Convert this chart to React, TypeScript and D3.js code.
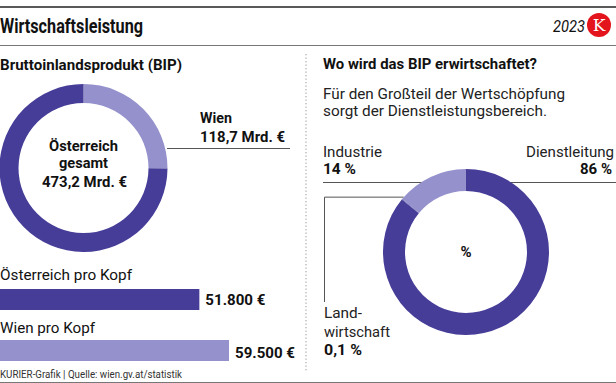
import React from "react";
import * as d3 from "d3";

const DARK = "#463d98";
const LIGHT = "#9491cc";
const FONT = "Roboto, 'Open Sans', sans-serif";

// Donut 1: Austria total GDP, Vienna share
const gdpTotal = 473.2;
const gdpLabels = ["Wien", "Rest"];
const gdpValues = [118.7, gdpTotal - 118.7];

// Donut 2: sectors
const sectorNames = ["Dienstleistung", "Landwirtschaft", "Industrie"];
const sectorValues = [86, 0.1, 14];
const sectorColors = [DARK, DARK, LIGHT];

// Bars: per capita
const perCapitaLabels = ["Österreich pro Kopf", "Wien pro Kopf"];
const perCapitaValues = [51800, 59500];
const perCapitaText = ["51.800 €", "59.500 €"];

type TProps = {
  x: number;
  y: number;
  s: number;
  w?: number;
  b?: boolean;
  a?: "start" | "end" | "middle";
  fill?: string;
  it?: boolean;
  children: React.ReactNode;
};
const T = ({ x, y, s, w, b, a, fill, it, children }: TProps) => (
  <text
    x={x}
    y={y}
    fontSize={s}
    fontWeight={b ? 700 : 400}
    fontStyle={it ? "italic" : "normal"}
    textAnchor={a || "start"}
    fill={fill || "#111"}
    fontFamily={FONT}
    textLength={w}
    lengthAdjust={w ? "spacingAndGlyphs" : undefined}
  >
    {children}
  </text>
);

export default function App() {
  const pie = d3.pie<number>().sort(null).value((d) => d);

  const c1 = { x: 83.5, y: 168 };
  const arc1 = d3.arc<d3.PieArcDatum<number>>().innerRadius(65).outerRadius(84);
  const arcs1 = pie(gdpValues);

  const c2 = { x: 466, y: 252 };
  const arc2 = d3.arc<d3.PieArcDatum<number>>().innerRadius(61).outerRadius(83);
  const arcs2 = pie(sectorValues);

  const xBar = d3.scaleLinear().domain([0, 59500]).range([0, 229]);
  const barY = [289, 340];
  const barLabelY = [280, 333];
  const barTextY = [305, 358];
  const barColors = [DARK, LIGHT];

  // Industrie arc start point (outer edge) for Landwirtschaft leader
  const indStart = arcs2[2].startAngle;
  const lx = c2.x + 83 * Math.sin(indStart + 0.03);
  const ly = c2.y - 83 * Math.cos(indStart + 0.03);

  return (
    <svg
      width={616}
      height={383}
      style={{ position: "absolute", left: 0, top: 0, background: "#fff" }}
    >
      <rect width={616} height={383} fill="#fff" />
      {/* header */}
      <line x1={0} x2={616} y1={7} y2={7} stroke="#222" strokeWidth={1.6} />
      <T x={0} y={33} s={20} b w={143}>Wirtschaftsleistung</T>
      <T x={553} y={32} s={16} it w={32}>2023</T>
      <circle cx={599} cy={25} r={12} fill="#e3141b" />
      <text x={599} y={31} fontSize={17} fontFamily="'DejaVu Serif', 'Liberation Serif', serif" fill="#fff" textAnchor="middle">K</text>
      <line x1={0} x2={616} y1={45.5} y2={45.5} stroke="#777" strokeWidth={1} />

      {/* separator */}
      <line x1={306} x2={306} y1={54} y2={372} stroke="#999" strokeWidth={1} strokeDasharray="1.3 2.2" />

      {/* left panel */}
      <T x={0} y={70} s={15} b w={182}>Bruttoinlandsprodukt (BIP)</T>
      <g transform={`translate(${c1.x},${c1.y})`}>
        {arcs1.map((a, i) => (
          <path key={gdpLabels[i]} d={arc1(a) || ""} fill={i === 0 ? LIGHT : DARK} />
        ))}
      </g>
      <line x1={167} x2={290} y1={148.5} y2={148.5} stroke="#555" strokeWidth={1} />
      <T x={200} y={123} s={15} b w={32}>Wien</T>
      <T x={200} y={142} s={15} b w={85}>118,7 Mrd. €</T>
      <T x={83.5} y={151} s={15} b a="middle" w={69}>Österreich</T>
      <T x={83.5} y={168} s={15} b a="middle" w={49}>gesamt</T>
      <T x={84.5} y={187} s={15} b a="middle" w={85}>473,2 Mrd. €</T>

      {perCapitaValues.map((v, i) => (
        <g key={perCapitaLabels[i]}>
          <T x={0} y={barLabelY[i]} s={15.5} w={i === 0 ? 132 : 95}>{perCapitaLabels[i]}</T>
          <rect x={0} y={barY[i]} width={xBar(v)} height={21} fill={barColors[i]} />
          <T x={xBar(v) + 6} y={barTextY[i]} s={15.5} b w={60}>{perCapitaText[i]}</T>
        </g>
      ))}

      <T x={0} y={378} s={10} fill="#333" w={182}>KURIER-Grafik | Quelle: wien.gv.at/statistik</T>
      <line x1={0} x2={616} y1={382.5} y2={382.5} stroke="#777" strokeWidth={1} />

      {/* right panel */}
      <T x={323} y={69} s={15} b w={214}>Wo wird das BIP erwirtschaftet?</T>
      <T x={323} y={99} s={15.5} fill="#222" w={242}>Für den Großteil der Wertschöpfung</T>
      <T x={323} y={116} s={15.5} fill="#222" w={224}>sorgt der Dienstleistungsbereich.</T>

      <T x={323} y={157} s={15.5} fill="#222" w={59}>Industrie</T>
      <T x={323} y={174} s={15.5} b w={33}>14 %</T>
      <T x={614} y={157} s={15.5} a="end" fill="#222" w={88}>Dienstleitung</T>
      <T x={612} y={174} s={15} b a="end">86 %</T>
      <line x1={323} x2={616} y1={182.5} y2={182.5} stroke="#555" strokeWidth={1} />

      <polyline
        points={`${lx},${ly} 324.5,${ly} 324.5,302`}
        fill="none"
        stroke="#555"
        strokeWidth={1}
      />

      <g transform={`translate(${c2.x},${c2.y})`}>
        {arcs2.map((a, i) => (
          <path key={sectorNames[i]} d={arc2(a) || ""} fill={sectorColors[i]} />
        ))}
      </g>
      <T x={466} y={257} s={15} b a="middle">%</T>

      <T x={324} y={318} s={15.5} fill="#222" w={38}>Land-</T>
      <T x={324} y={337} s={15.5} fill="#222" w={66}>wirtschaft</T>
      <T x={324} y={355} s={15.5} b w={38}>0,1 %</T>
    </svg>
  );
}
